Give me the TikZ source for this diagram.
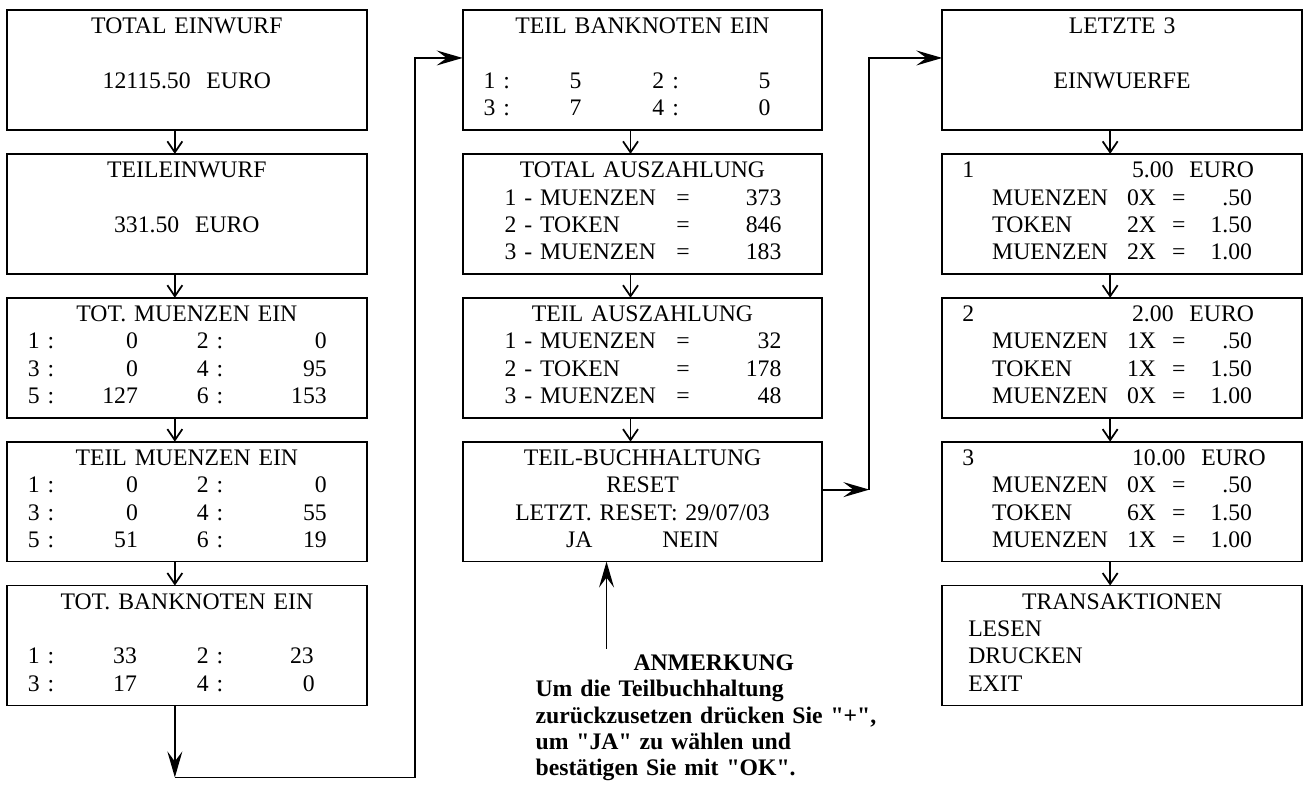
\documentclass[tikz,border=0pt]{standalone}
\usepackage{fontspec}
\setmainfont{Liberation Serif}[Ligatures=TeXOff]
\usepackage{tikz}
\usetikzlibrary{positioning}
\usetikzlibrary{arrows.meta}

\newcommand{\lpos}[2]{\rlap{\hspace*{#1}#2}}
\newcommand{\rpos}[2]{\rlap{\hspace*{#1}\llap{#2}}}
\newcommand{\row}[1]{\makebox[\linewidth][l]{#1}}
\newcommand{\cntrow}[6]{\row{\lpos{0.42cm}{#1}\rpos{#5}{#2}\lpos{3.8cm}{#3}\rpos{#6}{#4}}}
\newcommand{\payrow}[2]{\row{\lpos{0.84cm}{#1}\lpos{4.28cm}{=}\rpos{6.38cm}{#2}}}
\newcommand{\amtrow}[3]{\row{\lpos{1.0cm}{#1}\lpos{3.7cm}{#2}\lpos{4.6cm}{=}\rpos{6.2cm}{#3}}}
\newcommand{\sumrow}[2]{\row{\lpos{0.4cm}{#1}\lpos{3.8cm}{#2}}}

\tikzset{
  screen/.style={draw, line width=1pt, rectangle, inner sep=0pt, outer sep=0pt,
    minimum width=7.2cm, text width=7.2cm, align=center,
    text height=0.48cm, text depth=1.92cm,
    font=\fontsize{13.5}{15.5}\selectfont},
  note/.style={inner sep=0pt, outer sep=0pt, text width=7.2cm, align=left,
    font=\bfseries\fontsize{13.5}{15}\selectfont},
  flow/.style={line width=1pt, -{Straight Barb[length=0.22cm, width=0.3cm]}},
  jump/.style={line width=1pt, -{Stealth[length=0.52cm, width=0.3cm, inset=0.2cm]}},
  node distance=0.48cm
}

\begin{document}
\begin{tikzpicture}

  \useasboundingbox (0,0) rectangle (26.08,-15.7);

  % Define nodes
  \node[screen, anchor=north west] (tot_einwurf) at (0.14,-0.2) {TOTAL EINWURF\\[\baselineskip]12115.50~~EURO};
  \node[screen, below=of tot_einwurf] (teil_einwurf) {TEILEINWURF\\[\baselineskip]331.50~~EURO};
  \node[screen, below=of teil_einwurf] (tot_muenzen) {TOT. MUENZEN EIN\\
    \cntrow{1 :}{0}{2 :}{0}{2.62cm}{6.4cm}\\
    \cntrow{3 :}{0}{4 :}{95}{2.62cm}{6.4cm}\\
    \cntrow{5 :}{127}{6 :}{153}{2.62cm}{6.4cm}};
  \node[screen, below=of tot_muenzen] (teil_muenzen) {TEIL MUENZEN EIN\\
    \cntrow{1 :}{0}{2 :}{0}{2.62cm}{6.4cm}\\
    \cntrow{3 :}{0}{4 :}{55}{2.62cm}{6.4cm}\\
    \cntrow{5 :}{51}{6 :}{19}{2.62cm}{6.4cm}};
  \node[screen, below=of teil_muenzen] (tot_bank) {TOT. BANKNOTEN EIN\\[\baselineskip]
    \cntrow{1 :}{33}{2 :}{23}{2.6cm}{6.14cm}\\
    \cntrow{3 :}{17}{4 :}{0}{2.6cm}{6.16cm}};

  \node[screen, right=1.92cm of tot_einwurf] (teil_bank) {TEIL BANKNOTEN EIN\\[\baselineskip]
    \cntrow{1 :}{5}{2 :}{5}{2.38cm}{6.16cm}\\
    \cntrow{3 :}{7}{4 :}{0}{2.38cm}{6.16cm}};
  \node[screen, below=of teil_bank] (tot_aus) {TOTAL AUSZAHLUNG\\
    \payrow{1 - MUENZEN}{373}\\
    \payrow{2 - TOKEN}{846}\\
    \payrow{3 - MUENZEN}{183}};
  \node[screen, below=of tot_aus] (teil_aus) {TEIL AUSZAHLUNG\\
    \payrow{1 - MUENZEN}{32}\\
    \payrow{2 - TOKEN}{178}\\
    \payrow{3 - MUENZEN}{48}};
  \node[screen, below=of teil_aus] (reset) {TEIL-BUCHHALTUNG\\RESET\\LETZT. RESET: 29/07/03\\JA\hspace{1.4cm}NEIN};

  \node[screen, right=2.4cm of teil_bank] (letzte) {LETZTE 3\\[\baselineskip]EINWUERFE};
  \node[screen, below=of letzte] (ein_1) {\sumrow{1}{5.00~~EURO}\\
    \amtrow{MUENZEN}{0X}{.50}\\
    \amtrow{TOKEN}{2X}{1.50}\\
    \amtrow{MUENZEN}{2X}{1.00}};
  \node[screen, below=of ein_1] (ein_2) {\sumrow{2}{2.00~~EURO}\\
    \amtrow{MUENZEN}{1X}{.50}\\
    \amtrow{TOKEN}{1X}{1.50}\\
    \amtrow{MUENZEN}{0X}{1.00}};
  \node[screen, below=of ein_2] (ein_3) {\sumrow{3}{10.00~~EURO}\\
    \amtrow{MUENZEN}{0X}{.50}\\
    \amtrow{TOKEN}{6X}{1.50}\\
    \amtrow{MUENZEN}{1X}{1.00}};
  \node[screen, below=of ein_3] (trans) {TRANSAKTIONEN\\
    \row{\lpos{0.52cm}{LESEN}}\\
    \row{\lpos{0.52cm}{DRUCKEN}}\\
    \row{\lpos{0.52cm}{EXIT}}};

  % Note
  \node[note, anchor=base west] (anmerkung) at ([xshift=1.46cm, yshift=-2.18cm]reset.south west)
    {\hspace*{1.96cm}ANMERKUNG\\Um die Teilbuchhaltung\\zurückzusetzen drücken Sie "+",\\um "JA" zu wählen und\\bestätigen Sie mit "OK".};

  \coordinate (turn_a) at ([xshift=-0.24cm, yshift=-1.44cm]tot_bank.south);
  \coordinate (turn_b) at ([xshift=0.94cm, yshift=-0.96cm]reset.north east);
  \coordinate (note_tail) at ([xshift=-0.72cm, yshift=-1.74cm]reset.south);

  % Connect nodes
  \draw[flow] ([xshift=-0.24cm]tot_einwurf.south) -- ([xshift=-0.24cm]teil_einwurf.north);
  \draw[flow] ([xshift=-0.24cm]teil_einwurf.south) -- ([xshift=-0.24cm]tot_muenzen.north);
  \draw[flow] ([xshift=-0.24cm]tot_muenzen.south) -- ([xshift=-0.24cm]teil_muenzen.north);
  \draw[flow] ([xshift=-0.24cm]teil_muenzen.south) -- ([xshift=-0.24cm]tot_bank.north);

  \draw[flow] ([xshift=-0.24cm]teil_bank.south) -- ([xshift=-0.24cm]tot_aus.north);
  \draw[flow] ([xshift=-0.24cm]tot_aus.south) -- ([xshift=-0.24cm]teil_aus.north);
  \draw[flow] ([xshift=-0.24cm]teil_aus.south) -- ([xshift=-0.24cm]reset.north);

  \draw[flow] ([xshift=-0.24cm]letzte.south) -- ([xshift=-0.24cm]ein_1.north);
  \draw[flow] ([xshift=-0.24cm]ein_1.south) -- ([xshift=-0.24cm]ein_2.north);
  \draw[flow] ([xshift=-0.24cm]ein_2.south) -- ([xshift=-0.24cm]ein_3.north);
  \draw[flow] ([xshift=-0.24cm]ein_3.south) -- ([xshift=-0.24cm]trans.north);

  \draw[jump] ([xshift=-0.24cm]tot_bank.south) -- (turn_a);
  \draw[jump] (turn_a) -| ([xshift=-0.96cm, yshift=-0.96cm]teil_bank.north west) -- ([yshift=-0.96cm]teil_bank.north west);

  \draw[jump] ([yshift=-0.96cm]reset.north east) -- (turn_b);
  \draw[jump] (turn_b) |- ([yshift=-0.96cm]letzte.north west);

  \draw[jump] (note_tail) -- ([xshift=-0.72cm]reset.south);

\end{tikzpicture}
\end{document}
